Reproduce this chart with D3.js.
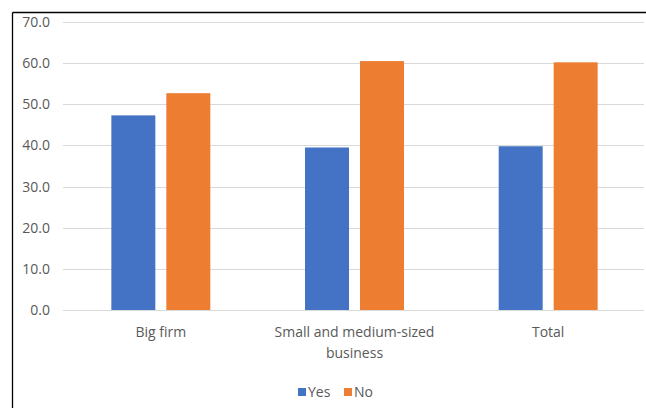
<!DOCTYPE html>
<html>
<head>
<meta charset="utf-8">
<script src="https://cdn.jsdelivr.net/npm/d3@7"></script>
<style>
  html, body { margin: 0; padding: 0; background: #fff; }
  svg { display: block; }
  text { font-family: "Open Sans", "Liberation Sans", sans-serif; fill: #595959; }
</style>
</head>
<body>
<svg id="chart" width="646" height="408"></svg>
<script>
// Survey answers by company type (percent)
const categories = ["Big firm", "Small and medium-sized business", "Total"];
const seriesNames = ["Yes", "No"];
const yesValues = [47.3, 39.5, 39.8];
const noValues = [52.7, 60.5, 60.2];
const yTicks = [0, 10, 20, 30, 40, 50, 60, 70];
const colors = ["#4472C4", "#ED7D31"];

const svg = d3.select("#chart");
const W = 646, H = 408;
const plot = { left: 63, right: 645, top: 22, bottom: 310 };

// Outer frame (only the top and left edges fall inside the view)
svg.append("line").attr("x1", 12.5).attr("x2", W).attr("y1", 12.5).attr("y2", 12.5)
  .attr("stroke", "#000").attr("stroke-width", 1.3);
svg.append("line").attr("x1", 12.5).attr("x2", 12.5).attr("y1", 12.5).attr("y2", H)
  .attr("stroke", "#000").attr("stroke-width", 1.3);

const y = d3.scaleLinear().domain([0, 70]).range([plot.bottom, plot.top]);
const x0 = d3.scaleBand().domain(categories).range([plot.left + 1, plot.right])
  .paddingInner(0.489).paddingOuter(0.2445);
const x1 = d3.scaleBand().domain(seriesNames).range([0, x0.bandwidth()]).paddingInner(0.2);

// Horizontal gridlines
svg.append("g").selectAll("line").data(yTicks).join("line")
  .attr("x1", plot.left).attr("x2", plot.right - 1)
  .attr("y1", d => Math.round(y(d)) + 0.5).attr("y2", d => Math.round(y(d)) + 0.5)
  .attr("stroke", "#d9d9d9").attr("stroke-width", 1);

// Y axis tick labels
const yAxis = d3.axisLeft(y).tickValues(yTicks).tickFormat(d3.format(".1f")).tickSize(0).tickPadding(0);
const gy = svg.append("g").attr("transform", `translate(50,0)`).call(yAxis);
gy.select(".domain").remove();
gy.selectAll("text").attr("font-size", 14).attr("fill", "#595959")
  .style("font-family", '"Open Sans", "Liberation Sans", sans-serif');

// Bars
const rows = categories.map((c, i) => ({ cat: c, vals: [yesValues[i], noValues[i]] }));
const groups = svg.append("g").selectAll("g").data(rows).join("g")
  .attr("transform", d => `translate(${x0(d.cat)},0)`);
groups.selectAll("rect").data(d => d.vals.map((v, j) => ({ key: seriesNames[j], v, j })))
  .join("rect")
  .attr("x", d => x1(d.key))
  .attr("width", x1.bandwidth())
  .attr("y", d => y(d.v))
  .attr("height", d => y(0) - y(d.v))
  .attr("fill", d => colors[d.j]);

// Category labels (wrapped)
const labelLines = {
  "Big firm": ["Big firm"],
  "Small and medium-sized business": ["Small and medium-sized", "business"],
  "Total": ["Total"]
};
const xl = svg.append("g");
categories.forEach(c => {
  const t = xl.append("text")
    .attr("x", x0(c) + x0.bandwidth() / 2)
    .attr("y", 337)
    .attr("text-anchor", "middle")
    .attr("font-size", 14);
  labelLines[c].forEach((ln, i) => {
    t.append("tspan").attr("x", x0(c) + x0.bandwidth() / 2).attr("dy", i === 0 ? 0 : 21).text(ln);
  });
});

// Legend
const legend = svg.append("g");
const legendItems = [{ name: "Yes", x: 298 }, { name: "No", x: 344 }];
legendItems.forEach((it, i) => {
  legend.append("rect").attr("x", it.x).attr("y", 388).attr("width", 8).attr("height", 8)
    .attr("fill", colors[i]);
  legend.append("text").attr("x", it.x + 10).attr("y", 397).attr("font-size", 14).text(it.name);
});
</script>
</body>
</html>
